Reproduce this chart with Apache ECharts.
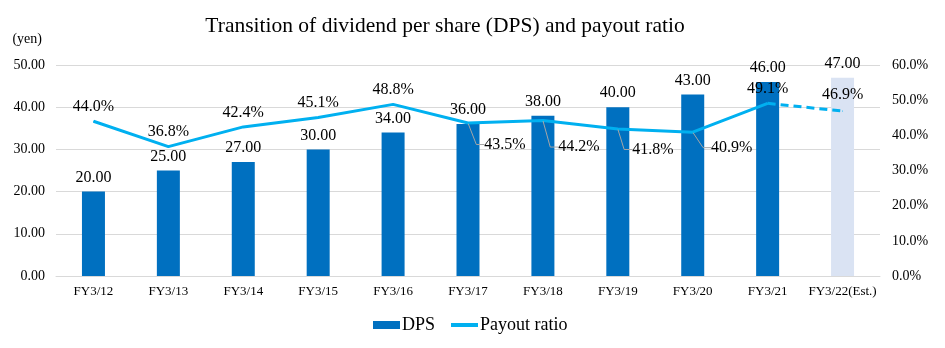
<!DOCTYPE html>
<html>
<head>
<meta charset="utf-8">
<script src="https://cdn.jsdelivr.net/npm/echarts@6/dist/echarts.min.js"></script>
<style>html,body{margin:0;padding:0;background:#fff}#c{width:945px;height:348px}</style>
</head>
<body>
<div id="c"></div>
<script>
const categories = ['FY3/12','FY3/13','FY3/14','FY3/15','FY3/16','FY3/17','FY3/18','FY3/19','FY3/20','FY3/21','FY3/22(Est.)'];
const dps = [20, 25, 27, 30, 34, 36, 38, 40, 43, 46, 47];
const payout = [44.0, 36.8, 42.4, 45.1, 48.8, 43.5, 44.2, 41.8, 40.9, 49.1, null];
const payoutEst = [null, null, null, null, null, null, null, null, null, 49.1, 46.9];
const estimateIndex = 10;
// label offsets for data labels that Excel moved below-right with leader lines
const movedLabels = {5: [37, 36], 6: [36, 41], 7: [35, 35], 8: [39, 30]};

const FONT = '"Liberation Serif", "Times New Roman", serif';
const chart = echarts.init(document.getElementById('c'));
chart.setOption({
  animation: false,
  textStyle: {fontFamily: FONT, color: '#000'},
  title: {
    text: 'Transition of dividend per share (DPS) and payout ratio',
    left: 440, top: 10, textAlign: 'center',
    textStyle: {fontFamily: FONT, fontSize: 21.5, fontWeight: 'normal', color: '#000'}
  },
  legend: {
    data: [
      {name: 'DPS', icon: 'rect'},
      {name: 'Payout ratio', itemStyle: {opacity: 0}}
    ],
    bottom: 14, left: 373, padding: 0,
    itemWidth: 27, itemHeight: 8, itemGap: 14,
    lineStyle: {width: 4},
    textStyle: {fontFamily: FONT, fontSize: 18, color: '#000', padding: [0, 0, 0, -3]}
  },
  grid: {left: 56, right: 65, top: 65, bottom: 72},
  xAxis: {
    type: 'category',
    data: categories,
    axisTick: {show: false},
    axisLine: {lineStyle: {color: '#d9d9d9'}},
    axisLabel: {interval: 0, margin: 9, fontFamily: FONT, fontSize: 13, color: '#000'}
  },
  yAxis: [{
    type: 'value', min: 0, max: 50, interval: 10,
    name: '(yen)', nameLocation: 'end', nameGap: 19,
    nameTextStyle: {fontFamily: FONT, fontSize: 14, color: '#000', align: 'right', padding: [0, 14, 0, 0]},
    axisLabel: {formatter: v => v.toFixed(2), fontFamily: FONT, fontSize: 14, color: '#000', margin: 11},
    splitLine: {lineStyle: {color: '#d9d9d9'}},
    axisLine: {show: false}, axisTick: {show: false}
  }, {
    type: 'value', min: 0, max: 60, interval: 10,
    axisLabel: {formatter: v => v.toFixed(1) + '%', fontFamily: FONT, fontSize: 14, color: '#000', margin: 12},
    splitLine: {show: false},
    axisLine: {show: false}, axisTick: {show: false}
  }],
  series: [{
    name: 'DPS',
    type: 'bar',
    barWidth: 23,
    data: dps.map((v, i) => i === estimateIndex ? {value: v, itemStyle: {color: '#dae3f3'}} : v),
    itemStyle: {color: '#0070c0'},
    label: {show: true, position: 'top', distance: 6, formatter: p => p.value.toFixed(2), fontFamily: FONT, fontSize: 16, color: '#000'},
    z: 2
  }, {
    name: 'Payout ratio',
    type: 'line',
    yAxisIndex: 1,
    data: payout.map((v, i) => movedLabels[i]
      ? {value: v, labelLine: {show: true, length2: 8, lineStyle: {color: '#a6a6a6', width: 1}}}
      : v),
    symbol: 'circle', symbolSize: 1, showSymbol: true,
    itemStyle: {color: '#00b0f0'},
    lineStyle: {color: '#00b0f0', width: 3},
    label: {show: true, position: 'top', distance: 6, formatter: p => p.value.toFixed(1) + '%', fontFamily: FONT, fontSize: 16, color: '#000'},
    labelLine: {show: false},
    labelLayout: p => {
      const m = movedLabels[p.dataIndex];
      return m ? {dx: m[0], dy: m[1]} : {};
    },
    z: 3
  }, {
    name: 'Payout ratio (Est.)',
    type: 'line',
    yAxisIndex: 1,
    data: payoutEst,
    symbol: 'circle', symbolSize: 1, showSymbol: true,
    itemStyle: {color: '#00b0f0'},
    lineStyle: {color: '#00b0f0', width: 3, type: [8, 5]},
    label: {show: true, position: 'top', distance: 8, formatter: p => p.dataIndex === estimateIndex ? p.value.toFixed(1) + '%' : '', fontFamily: FONT, fontSize: 16, color: '#000'},
    z: 3
  }]
});
</script>
</body>
</html>
